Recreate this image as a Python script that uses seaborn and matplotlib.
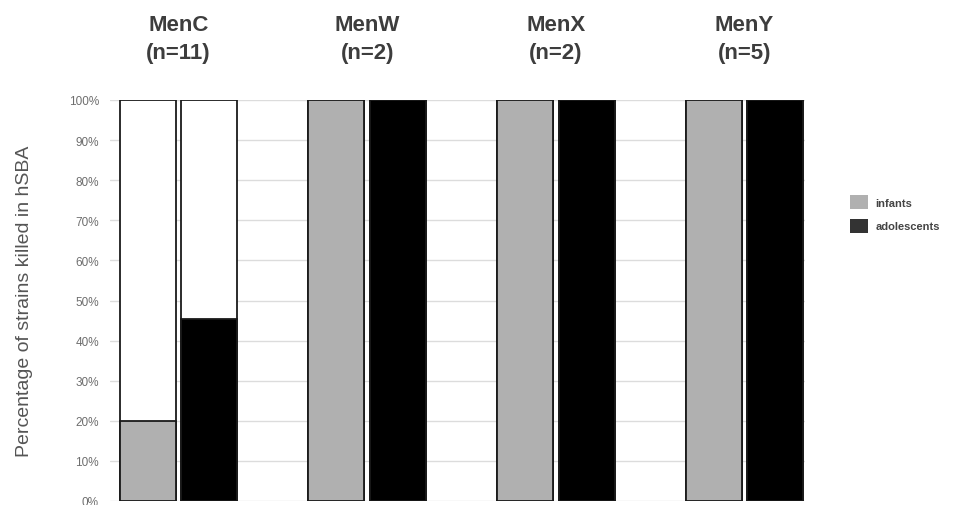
import numpy as np
import pandas as pd
import matplotlib as mpl
mpl.use("Agg")
import matplotlib.pyplot as plt
import seaborn as sb
from matplotlib.patches import Patch

# data
groups = ["MenC", "MenW", "MenX", "MenY"]
n_strains = [11, 2, 2, 5]
infants = [20.0, 100.0, 100.0, 100.0]
adolescents = [45.5, 100.0, 100.0, 100.0]
cohorts = ["infants", "adolescents"]
yticks = [0, 10, 20, 30, 40, 50, 60, 70, 80, 90, 100]

labels = [f"{g}\n(n={n})" for g, n in zip(groups, n_strains)]
df = pd.DataFrame({
    "group": labels * 2,
    "cohort": [cohorts[0]] * 4 + [cohorts[1]] * 4,
    "pct": infants + adolescents,
})
df["total"] = 100.0

sb.set_style("white")
plt.rcParams["font.family"] = ["Liberation Sans", "DejaVu Sans"]

fig = plt.figure(figsize=(9.57, 5.06), dpi=100)
ax = fig.add_axes([110 / 957, 1 - 502 / 506, (805 - 110) / 957, (502 - 101) / 506])

ax.set_axisbelow(True)
ax.yaxis.grid(True, color="#dcdcdc", lw=1)

bar_kw = dict(x="group", hue="cohort", order=labels, hue_order=cohorts,
              width=0.652, gap=0.09, dodge=True, legend=False, ax=ax,
              linewidth=1.3, edgecolor="#1a1a1a")
# white 100% background bars
sb.barplot(data=df, y="total", palette=["white", "white"], **bar_kw)
# actual percentages
sb.barplot(data=df, y="pct", palette=["#b0b0b0", "black"], **bar_kw)

ax.set_ylim(0, 100)
ax.set_xlim(-0.363, 3.32)
ax.set_yticks(yticks)
ax.set_yticklabels([f"{v}%" for v in yticks], fontsize=8.5, color="#6e6e6e")
ax.tick_params(axis="y", length=0, pad=8)

ax.xaxis.tick_top()
ax.tick_params(axis="x", length=0, pad=27)
for t in ax.get_xticklabels():
    t.set_fontsize(16)
    t.set_fontweight("bold")
    t.set_color("#3d3d3d")
    t.set_linespacing(1.38)
ax.set_xlabel("")
ax.set_ylabel("Percentage of strains killed in hSBA", fontsize=14, color="#555555", labelpad=26)
sb.despine(ax=ax, left=True, bottom=True)

handles = [Patch(facecolor="#b0b0b0", edgecolor="none"),
           Patch(facecolor="#333333", edgecolor="none")]
fig.legend(handles, cohorts, loc="center left", bbox_to_anchor=(840 / 957, 1 - 215 / 506),
           frameon=False, prop={"size": 8, "weight": "bold"}, handlelength=1.6,
           handleheight=1.6, handletextpad=0.7, labelspacing=0.85, labelcolor="#444444")

fig.savefig("out.png", dpi=100)
